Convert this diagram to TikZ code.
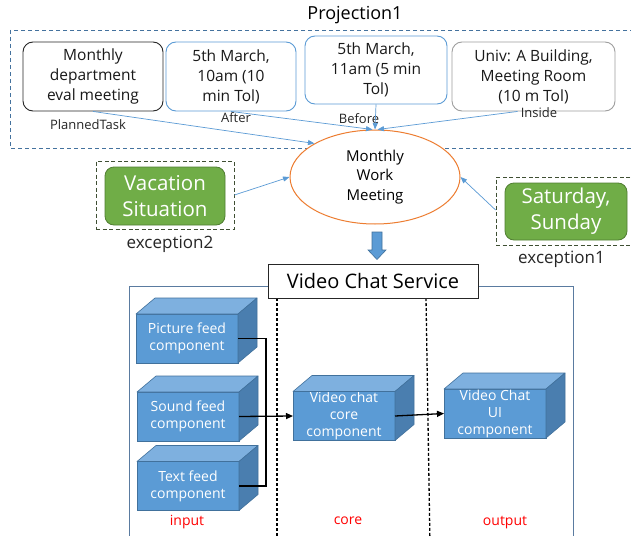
\documentclass[tikz,border=0pt]{standalone}
\usepackage{fontspec}
\setmainfont{Open Sans}
\usetikzlibrary{arrows.meta,shapes.geometric,calc}
\definecolor{lblue}{HTML}{5B9BD5}
\definecolor{dblue}{HTML}{41719C}
\definecolor{ggreen}{HTML}{70AD47}
\definecolor{dgreen}{HTML}{507E32}
\definecolor{orng}{HTML}{ED7D31}
\definecolor{projc}{HTML}{44729E}
\definecolor{contc}{HTML}{5A7BA0}
\definecolor{cubetopc}{HTML}{7EB0DF}
\definecolor{cubesidec}{HTML}{4A7EAF}
\definecolor{gdashc}{HTML}{3F4F33}
\newcommand\myfs[2]{\fontsize{#1}{#2}\selectfont}
\newcommand\mycube[4]{%
  \node[cubefront] (#1) at (#2,#3) {#4};
  \filldraw[cubetop] (#1.north west) -- ++(19,-16) -- ($(#1.north east)+(19,-16)$) -- (#1.north east) -- cycle;
  \filldraw[cubeside] (#1.north east) -- ++(19,-16) -- ($(#1.south east)+(19,-16)$) -- (#1.south east) -- cycle;
}
\tikzset{
  tbox/.style={rounded corners=10pt, line width=0.9pt, align=center, inner sep=0pt,
    font=\myfs{15.5}{20}, text=black!90},
  lbl/.style={font=\myfs{13}{16}, text=black!85, inner sep=0pt},
  barrow/.style={draw=lblue, line width=0.7pt, -{Triangle[length=6.5pt,width=5pt]}},
  gbox/.style={rounded corners=9pt, fill=ggreen, draw=dgreen, line width=0.8pt, text=white,
    align=center, inner sep=0pt, font=\myfs{20.5}{26}},
  gdash/.style={draw=gdashc, dash pattern=on 4pt off 2.5pt, line width=0.8pt, inner sep=0pt},
  exlbl/.style={font=\myfs{17}{20}, text=black!85, inner sep=0pt},
  cubefront/.style={fill=lblue, draw=dblue, line width=0.6pt, minimum width=102pt, minimum height=49pt,
    inner sep=0pt, outer sep=0pt, text=white, align=center, font=\myfs{14}{17}},
  cubetop/.style={fill=cubetopc, draw=dblue, line width=0.6pt, line join=round},
  cubeside/.style={fill=cubesidec, draw=dblue, line width=0.6pt, line join=round},
  karrow/.style={draw=black, line width=1.3pt, -{Triangle[length=7pt,width=6pt]}},
  divider/.style={draw=black, line width=1.3pt, dash pattern=on 3pt off 2pt},
  redlbl/.style={text=red, font=\myfs{14}{16}, inner sep=0pt}
}
\begin{document}
\begin{tikzpicture}[x=1pt,y=-1pt]
\useasboundingbox (0,0) rectangle (631,535);
\clip (0,0) rectangle (631,535);
\fill[white] (0,0) rectangle (631,535);

% projection frame
\node[font=\myfs{18}{22}, inner sep=0pt] (projlbl) at (355,15) {Projection1};
\draw[projc, line width=0.8pt, dash pattern=on 4pt off 3pt] (10,30) rectangle (645,148);

% top boxes
\node[tbox, draw=black!85, minimum width=140pt, minimum height=69pt] (b1) at (93,76.5) {Monthly\\department\\eval meeting};
\node[tbox, draw=lblue, minimum width=130pt, minimum height=69pt] (b2) at (231,76.5) {5th March,\\10am (10\\min Tol)};
\node[tbox, draw=lblue, minimum width=142pt, minimum height=68pt] (b3) at (376,70) {5th March,\\11am (5 min\\Tol)};
\node[tbox, draw=black!38, minimum width=163pt, minimum height=69pt] (b4) at (533.5,76.5) {Univ: A Building,\\Meeting Room\\(10 m Tol)};

% labels
\node[lbl] (l1) at (88,125) {PlannedTask};
\node[lbl] (l2) at (236,118) {After};
\node[lbl] (l3) at (359,119) {Before};
\node[lbl] (l4) at (539,113) {Inside};

% ellipse
\node[ellipse, draw=orng, fill=white, line width=1pt, minimum width=170pt, minimum height=94pt,
  inner sep=0pt, align=center, font=\myfs{15}{19.5}] (ell) at (375,177) {Monthly\\Work\\Meeting};

% arrows into ellipse
\draw[barrow] (b1.south) -- (ell.151);
\draw[barrow] (b2.south) -- (ell.93);
\draw[barrow] (b3.south) -- (ell.north);
\draw[barrow] ($(b4.south)+(-16,0)$) -- (ell.87);

% exceptions
\node[gdash, minimum width=138pt, minimum height=68pt] (vd) at (165,195) {};
\node[gbox, minimum width=120pt, minimum height=58pt] (vac) at (165,196) {Vacation\\Situation};
\node[exlbl] (ex2) at (170,244) {exception2};
\node[gdash, minimum width=150pt, minimum height=68pt] (sd) at (571,211) {};
\node[gbox, minimum width=122pt, minimum height=57pt] (sat) at (566,211.5) {Saturday,\\Sunday};
\node[exlbl] (ex1) at (561.5,259) {exception1};
\draw[barrow] (vd.east) -- (ell.west);
\draw[barrow] ($(sd.west)+(0,-1)$) -- (ell.east);

% block arrow
\filldraw[fill=lblue, draw=dblue, line width=0.6pt] (372,232) -- (382,232) -- (382,250) -- (386,250) -- (377,259.5) -- (368,250) -- (372,250) -- cycle;

% container
\draw[contc, line width=0.8pt] (129,545) -- (129,286) -- (573,286) -- (573,545);
\draw[divider] (277,298) -- (277,545);
\draw[divider] (426,298) -- (430,545);

% service box
\node[draw=black!85, fill=white, line width=0.9pt, minimum width=210pt, minimum height=34pt,
  inner sep=0pt, font=\myfs{20}{24}] (vcs) at (373,281) {Video Chat Service};

% cubes
\mycube{pic}{187}{338.5}{Picture feed\\component}
\mycube{snd}{188}{416.5}{Sound feed\\component}
\mycube{txt}{188}{486}{Text feed\\component}
\mycube{core}{344}{416}{Video chat\\core\\component}
\mycube{ui}{495}{413.5}{Video Chat\\UI\\component}

% connectors
\coordinate (jn) at (266,338.5);
\draw[black, line width=1.3pt] (pic.east) -- (jn) |- (txt.east);
\draw[karrow] (snd.east) -- (core.west);
\draw[karrow] (core.east) -- (ui.west);

% red labels
\node[redlbl] (rin) at (187,522) {input};
\node[redlbl] (rcore) at (348,521) {core};
\node[redlbl] (rout) at (505,523) {output};
\end{tikzpicture}
\end{document}
